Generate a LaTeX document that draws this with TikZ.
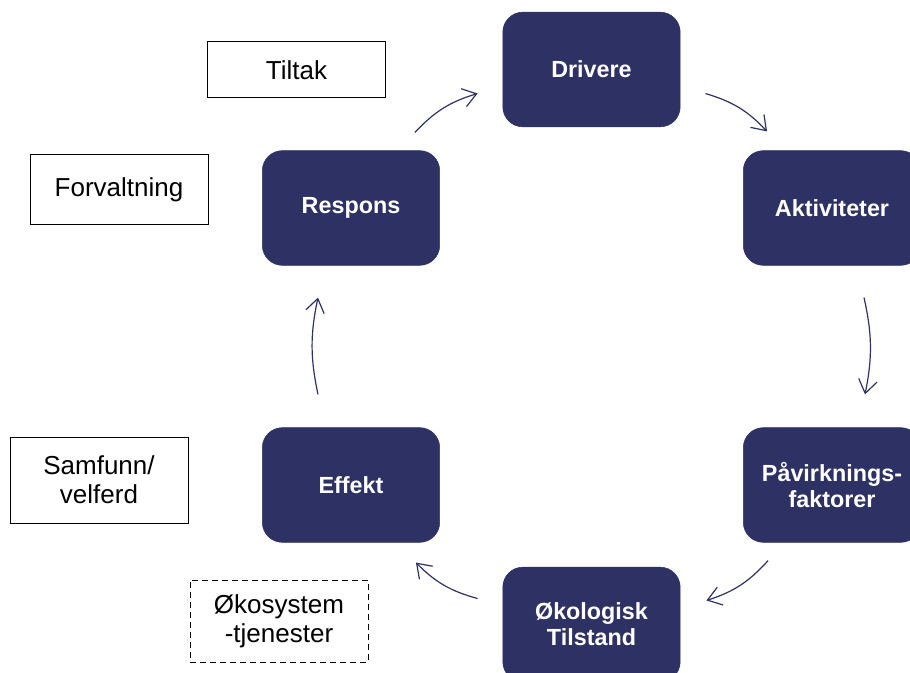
\documentclass[tikz,border=0pt]{standalone}
\usepackage{fontspec}
\setmainfont{Liberation Sans}
\usetikzlibrary{arrows.meta, calc}
\definecolor{dpsirnavy}{RGB}{46,49,99}
\tikzset{
    stage/.style={
        rectangle, rounded corners=15pt, fill=dpsirnavy, draw=dpsirnavy,
        minimum width=133pt, minimum height=86pt, align=center,
        text=white, font=\fontsize{17.5}{19.5}\selectfont\bfseries
    }, % preset style for a stage of the cycle
    tag/.style={
        rectangle, draw=black, line width=0.75pt, minimum width=133.5pt,
        align=center, font=\fontsize{19.5}{21.75}\selectfont
    }, % preset style for a side label
    cyclearrow/.style={
        draw=dpsirnavy, line width=0.9pt,
        -{Straight Barb[length=10pt, width=14pt, line width=0.9pt]}
    }, % preset style for arrow between stages
}

\begin{document}
\begin{tikzpicture}[x=0.75pt, y=-0.75pt]
        \useasboundingbox (0, 0) rectangle (910, 673);
        \clip (0, 0) rectangle (910, 673);
        % stages
        \node[stage] (drivere) at (591.5, 69.5) {Drivere};
        \node[stage] (aktiviteter) at (832, 208) {Aktiviteter};
        \node[stage] (paavirkning) at (832, 485) {Påvirknings-\\faktorer};
        \node[stage] (tilstand) at (591.5, 624.5) {Økologisk\\Tilstand};
        \node[stage] (effekt) at (351, 485) {Effekt};
        \node[stage] (respons) at (351, 208) {Respons};
        % side labels
        \node[tag, minimum height=42pt] (tiltak) at (296.5, 70) {Tiltak};
        \node[tag, minimum height=52.5pt] (forvaltning) at (119, 190) {Forvaltning};
        \node[tag, minimum height=64.5pt] (samfunn) at (99, 480) {Samfunn/\\velferd};
        \node[tag, minimum height=61.5pt, dash pattern=on 4.5pt off 3pt] (tjenester) at (279, 621) {Økosystem\\-tjenester};
        % arrows
        \draw[cyclearrow] ($(respons.north east)+(-25, -18)$) to[bend left=15] ($(drivere.west)+(-25, 24)$);
        \draw[cyclearrow] ($(drivere.east)+(25, 24)$) to[bend left=15] ($(aktiviteter.north west)+(24, -19)$);
        \draw[cyclearrow] ($(aktiviteter.south)+(32, 32)$) to[bend left=12] ($(paavirkning.north)+(33, -33)$);
        \draw[cyclearrow] ($(paavirkning.south west)+(25, 18)$) to[bend left=15] ($(tilstand.east)+(26, -24)$);
        \draw[cyclearrow] ($(tilstand.west)+(-25, -26)$) to[bend left=15] ($(effekt.south east)+(-24, 20)$);
        \draw[cyclearrow] ($(effekt.north)+(-33, -33)$) to[bend left=12] ($(respons.south)+(-33, 32)$);
    \end{tikzpicture}
\end{document}
